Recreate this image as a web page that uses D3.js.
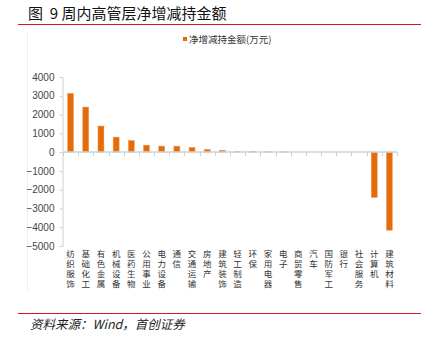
<!DOCTYPE html>
<html><head><meta charset="utf-8">
<script src="https://cdn.jsdelivr.net/npm/d3@7"></script>
<style>body{margin:0;background:#fff}svg{display:block}</style>
</head><body>
<script>
const cats = ["纺织服饰","基础化工","有色金属","机械设备","医药生物","公用事业","电力设备","通信","交通运输","房地产","建筑装饰","轻工制造","环保","家用电器","电子","商贸零售","汽车","国防军工","银行","社会服务","计算机","建筑材料"];
const values = [3130,2400,1390,800,620,370,320,320,250,145,100,45,45,20,15,0,0,0,0,0,-2420,-4160];
const yTicks = [4000,3000,2000,1000,0,-1000,-2000,-3000,-4000,-5000];
const seriesName = "净增减持金额(万元)";
const title = "图  9 周内高管层净增减持金额";
const source = "资料来源：Wind，首创证券";

const W = 432, H = 343;
const svg = d3.select("body").append("svg").attr("width", W).attr("height", H);

// title
svg.append("text").attr("x", 28).attr("y", 19).attr("font-family","Noto Sans CJK SC").attr("font-size",15).attr("fill","#111")
  .attr("xml:space","preserve").style("white-space","pre").text(title);
svg.append("line").attr("x1",18).attr("x2",421).attr("y1",24.5).attr("y2",24.5).attr("stroke","#d9191c").attr("stroke-width",1.2);
// faint chart border
svg.append("line").attr("x1",27.5).attr("x2",27.5).attr("y1",32).attr("y2",292).attr("stroke","#f0f0f0");

// legend
svg.append("rect").attr("x",183).attr("y",37).attr("width",4).attr("height",4).attr("fill","#e46c0a");
svg.append("text").attr("x",189).attr("y",42.5).attr("font-family","Noto Sans CJK SC").attr("font-size",9.5).attr("fill","#333").text(seriesName);

const xb = d3.scaleBand().domain(cats).range([63, 397]);
const y = d3.scaleLinear().domain([-5000, 4000]).range([246, 77]);

// y axis
const ya = svg.append("g").attr("transform","translate(62.5,0)")
  .call(d3.axisLeft(y).tickValues(yTicks).tickSize(3).tickPadding(5).tickFormat(d => d < 0 ? "−" + Math.abs(d) : d));
ya.select(".domain").attr("stroke","#d0d0d0");
ya.selectAll(".tick line").attr("stroke","#d0d0d0");
ya.selectAll(".tick text").attr("font-family","Liberation Sans, Arial").attr("font-size",10).attr("fill","#444");

// bars
svg.append("g").selectAll("rect").data(values).join("rect")
  .attr("x", (d,i) => xb(cats[i]) + xb.bandwidth()/2 - 3)
  .attr("width", 6)
  .attr("y", d => y(Math.max(0,d)))
  .attr("height", d => Math.abs(y(d) - y(0)))
  .attr("fill", "#e46c0a").attr("stroke","#f2a060").attr("stroke-width",0.5);

// x axis at zero
const xa = svg.append("g").attr("transform", `translate(0,${y(0)})`);
xa.append("line").attr("x1",63).attr("x2",397).attr("stroke","#d0d0d0").attr("stroke-width",1.5);
const bounds = cats.map(c => xb(c)).concat([397]);
xa.selectAll("line.t").data(bounds).join("line").attr("class","t")
  .attr("x1", d => Math.round(d)+0.5).attr("x2", d => Math.round(d)+0.5).attr("y1",0).attr("y2",4).attr("stroke","#d0d0d0");

// category labels vertical
svg.append("g").selectAll("text").data(cats).join("text")
  .attr("x", c => xb(c) + xb.bandwidth()/2)
  .attr("y", 250)
  .attr("writing-mode","vertical-rl")
  .style("writing-mode","vertical-rl")
  .attr("font-family","Noto Sans CJK SC").attr("font-size",8.5).attr("letter-spacing",1.5).attr("fill","#333")
  .text(c => c);

// bottom
svg.append("line").attr("x1",18).attr("x2",421).attr("y1",313.5).attr("y2",313.5).attr("stroke","#d9191c").attr("stroke-width",1.2);
svg.append("text").attr("x",30).attr("y",329).attr("font-family","Noto Sans CJK SC").attr("font-style","italic").attr("font-size",12.5).attr("fill","#222").text(source);
</script>
</body></html>
